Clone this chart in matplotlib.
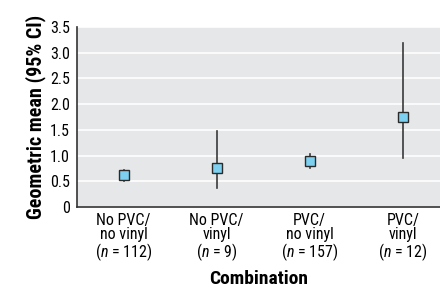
import matplotlib
matplotlib.use("Agg")
import matplotlib.pyplot as plt
from matplotlib import font_manager

available = {f.name for f in font_manager.fontManager.ttflist}
prefs = ['Roboto Condensed', 'Liberation Sans Narrow', 'Archivo Narrow',
         'Open Sans Condensed', 'Barlow Semi Condensed', 'Asap Condensed', 'Liberation Sans']
fam = next(p for p in prefs if p in available)

plt.rcParams['font.family'] = [fam, 'DejaVu Sans']
plt.rcParams['mathtext.fontset'] = 'custom'
plt.rcParams['mathtext.it'] = fam + ':italic'
plt.rcParams['mathtext.rm'] = fam

categories = ["No PVC/\nno vinyl\n($\\mathit{n}$ = 112)", "No PVC/\nvinyl\n($\\mathit{n}$ = 9)",
              "PVC/\nno vinyl\n($\\mathit{n}$ = 157)", "PVC/\nvinyl\n($\\mathit{n}$ = 12)"]
means = [0.62, 0.76, 0.90, 1.75]
lower = [0.50, 0.37, 0.76, 0.96]
upper = [0.71, 1.47, 1.04, 3.18]
yticks = [0, 0.5, 1.0, 1.5, 2.0, 2.5, 3.0, 3.5]
yticklabels = ["0", "0.5", "1.0", "1.5", "2.0", "2.5", "3.0", "3.5"]

fig = plt.figure(figsize=(4.4, 2.89), dpi=100)
ax = fig.add_axes([77/440, 1 - 207/289, 1 - 77/440, 180/289])
ax.set_facecolor('#e6e7e8')
xs = list(range(len(categories)))
for x, lo, hi in zip(xs, lower, upper):
    ax.plot([x, x], [lo, hi], color='#3a3a3a', lw=1.2, zorder=2)
ax.plot(xs, means, 's', ms=7, mfc='#7dd0ef', mec='#2a2a2a', mew=1.0, zorder=3, ls='none')
ax.set_xlim(-0.5, 3.4)
ax.set_ylim(0, 3.5)
ax.set_yticks(yticks)
ax.set_yticklabels(yticklabels, fontsize=11.5)
ax.set_xticks(xs)
ax.set_xticklabels(categories, fontsize=11.5, linespacing=0.95)
ax.tick_params(axis='x', length=0, pad=4)
ax.tick_params(axis='y', length=0, pad=5)
ax.yaxis.grid(True, color='white', lw=1.2)
ax.set_axisbelow(True)
for s in ['top', 'right']:
    ax.spines[s].set_visible(False)
for s in ['left', 'bottom']:
    ax.spines[s].set_color('#333333')
    ax.spines[s].set_linewidth(1.2)
ax.set_xlabel('Combination', fontsize=14, fontweight='bold', labelpad=5)
ax.set_ylabel('Geometric mean (95% CI)', fontsize=14.5, fontweight='bold', labelpad=3)
fig.savefig('out.png', dpi=100)
